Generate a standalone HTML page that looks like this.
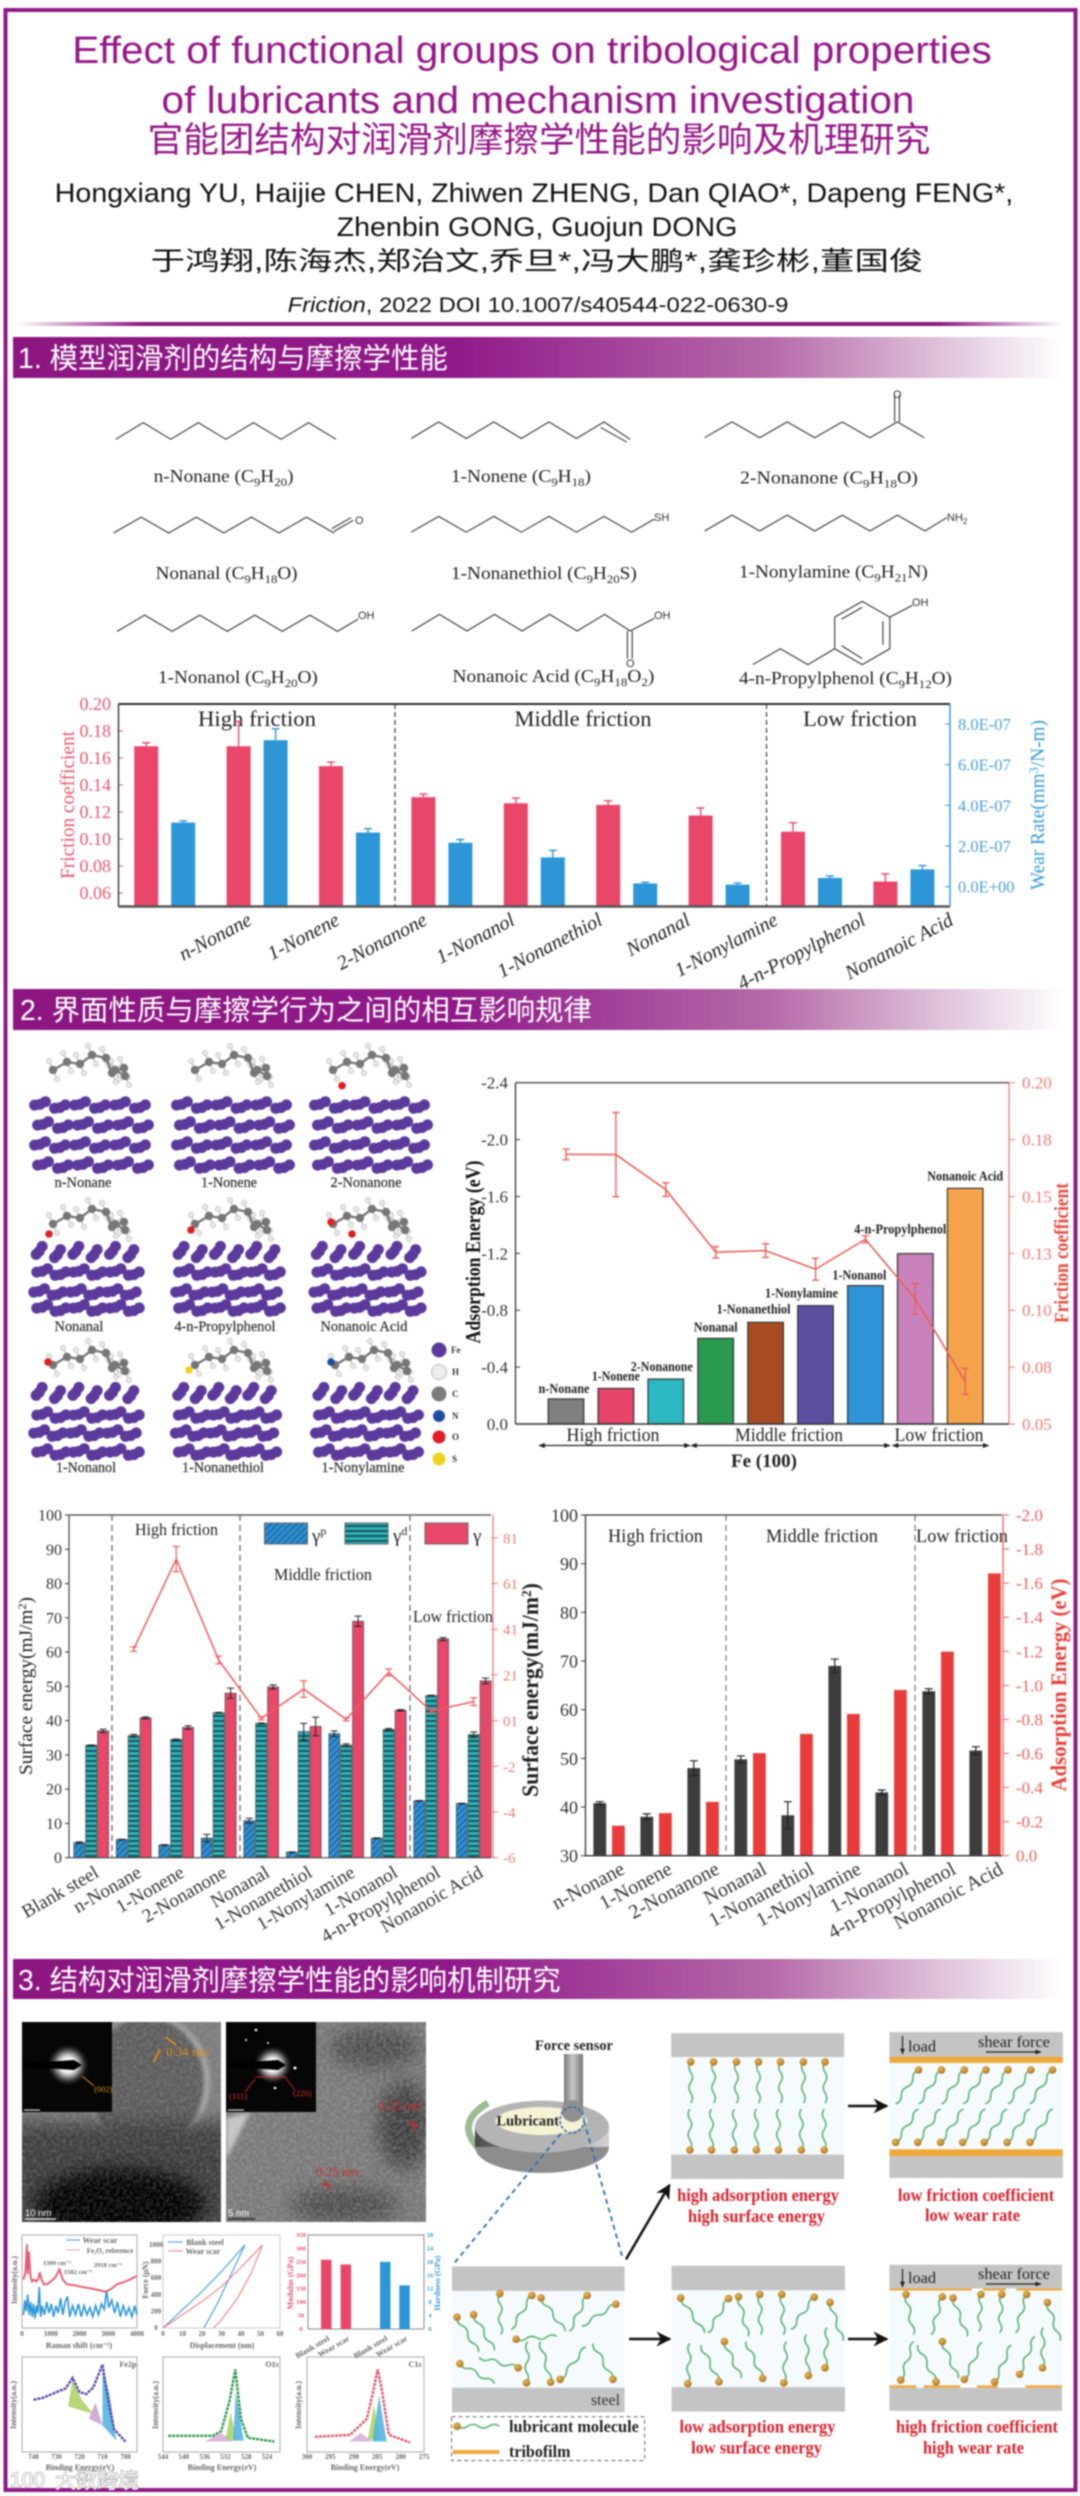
<!DOCTYPE html>
<html lang="en">
<head>
<meta charset="utf-8">
<title>Effect of functional groups on tribological properties of lubricants</title>
<style>
html,body{margin:0;padding:0;width:1080px;height:2496px;background:#fff;overflow:hidden}
#poster{display:block;filter:blur(0.7px)}
text{font-family:"Liberation Serif","Noto Serif CJK SC",serif}
.sans{font-family:"Liberation Sans","Noto Sans CJK SC",sans-serif}
.sec{font-family:"Liberation Sans","Noto Sans CJK SC",sans-serif;font-size:28.5px;fill:#fff}
.mol{font-size:18px;fill:#222}
.atom{font-size:11px;fill:#333;font-family:"Liberation Sans",sans-serif}
.fe{font-size:15px;fill:#333;text-anchor:middle;stroke:#333;stroke-width:.25}
.band{font-size:19px;fill:#222;text-anchor:middle}
.redb{font-size:18px;font-weight:bold;fill:#d8202c;text-anchor:middle}
.tiny{font-size:8px;fill:#666;font-weight:bold;text-anchor:middle}
</style>
</head>
<body>
<svg id="poster" xmlns="http://www.w3.org/2000/svg" width="1080" height="2496" viewBox="0 0 1080 2496">
<defs>
<linearGradient id="secGrad" x1="0" x2="1" y1="0" y2="0"><stop offset="0" stop-color="#8c1680"/><stop offset=".42" stop-color="#90198a"/><stop offset=".72" stop-color="#b56aa8"/><stop offset=".9" stop-color="#e3cbe0"/><stop offset="1" stop-color="#fff"/></linearGradient>
<linearGradient id="ruleGrad" x1="0" x2="1" y1="0" y2="0"><stop offset="0" stop-color="#8c1680" stop-opacity="0"/><stop offset=".12" stop-color="#8c1680"/><stop offset=".88" stop-color="#8c1680"/><stop offset="1" stop-color="#8c1680" stop-opacity="0"/></linearGradient>
<linearGradient id="diskSide" x1="0" x2="1" y1="0" y2="0"><stop offset="0" stop-color="#4a4a4a"/><stop offset=".5" stop-color="#a8a8a8"/><stop offset="1" stop-color="#d0d0d0"/></linearGradient>
<linearGradient id="rodGrad" x1="0" x2="1" y1="0" y2="0"><stop offset="0" stop-color="#777"/><stop offset=".45" stop-color="#c8c8c8"/><stop offset="1" stop-color="#777"/></linearGradient>
<radialGradient id="ball" cx=".4" cy=".35" r=".7"><stop offset="0" stop-color="#e8b85a"/><stop offset="1" stop-color="#a56e18"/></radialGradient>
<radialGradient id="halo"><stop offset="0" stop-color="#fff"/><stop offset=".35" stop-color="#eee"/><stop offset=".6" stop-color="#777"/><stop offset="1" stop-color="#000" stop-opacity="0"/></radialGradient>
<pattern id="hatchP" width="4.5" height="4.5" patternUnits="userSpaceOnUse" patternTransform="rotate(45)"><rect width="4.5" height="4.5" fill="#2c8fd2"/><line x1="0" y1="0" x2="0" y2="4.5" stroke="#17405f" stroke-width="1.4"/></pattern>
<pattern id="hatchD" width="4" height="5" patternUnits="userSpaceOnUse"><rect width="4" height="5" fill="#2cb0b8"/><line x1="0" y1="1" x2="4" y2="1" stroke="#123c40" stroke-width="1.5"/></pattern>
<filter id="grain" x="0" y="0" width="100%" height="100%"><feTurbulence type="fractalNoise" baseFrequency="0.3" numOctaves="2" seed="4"/><feColorMatrix type="matrix" values="0 0 0 0 .5  0 0 0 0 .5  0 0 0 0 .5  1.6 0 0 0 -.55"/></filter>
<filter id="soft" x="-60%" y="-60%" width="220%" height="220%"><feGaussianBlur stdDeviation="9"/></filter>
<filter id="soft2" x="-30%" y="-30%" width="160%" height="160%"><feGaussianBlur stdDeviation="2"/></filter>
<clipPath id="tem1"><rect x="22" y="2022" width="199" height="200"/></clipPath>
<clipPath id="tem2"><rect x="226" y="2022" width="200" height="200"/></clipPath>
<marker id="ah" viewBox="0 0 10 10" refX="9" refY="5" markerWidth="6" markerHeight="6" orient="auto-start-reverse"><path d="M0 0L10 5L0 10L3 5Z" fill="#111"/></marker>
<marker id="ahs" viewBox="0 0 10 10" refX="9" refY="5" markerWidth="5" markerHeight="5" orient="auto-start-reverse"><path d="M0 1L10 5L0 9Z" fill="#222"/></marker>
</defs>

<rect x="0" y="0" width="1080" height="2496" fill="#fff"/>
<rect x="5.5" y="10" width="1070" height="2480" fill="none" stroke="#8f1a85" stroke-width="4"/>

<g>
<text class="sans" x="532" y="63" font-size="38" fill="#951786" text-anchor="middle" data-w="920">Effect of functional groups on tribological properties</text>
<text class="sans" x="538" y="113" font-size="38" fill="#951786" text-anchor="middle" data-w="753">of lubricants and mechanism investigation</text>
<text class="sans" x="539" y="152" font-size="35" fill="#951786" text-anchor="middle" data-w="783">官能团结构对润滑剂摩擦学性能的影响及机理研究</text>
<text class="sans" x="534" y="202" font-size="27" fill="#111" text-anchor="middle" data-w="959">Hongxiang YU, Haijie CHEN, Zhiwen ZHENG, Dan QIAO*, Dapeng FENG*,</text>
<text class="sans" x="537" y="236" font-size="27" fill="#111" text-anchor="middle" data-w="401">Zhenbin GONG, Guojun DONG</text>
<text class="sans" x="537" y="270" font-size="26" fill="#111" text-anchor="middle" data-w="773">于鸿翔,陈海杰,郑治文,乔旦*,冯大鹏*,龚珍彬,董国俊</text>
<text class="sans" x="538" y="312" font-size="21" fill="#111" text-anchor="middle" data-w="501"><tspan font-style="italic">Friction</tspan>, 2022 DOI 10.1007/s40544-022-0630-9</text>
<rect x="15" y="322" width="1050" height="4" fill="url(#ruleGrad)"/>
</g>

<g>
<rect x="13" y="337" width="1052" height="41" fill="url(#secGrad)"/>
<text class="sec" x="18" y="368" data-w="430">1. 模型润滑剂的结构与摩擦学性能</text>
</g>
<g>
<rect x="13" y="989" width="1052" height="41" fill="url(#secGrad)"/>
<text class="sec" x="20" y="1020" data-w="572">2. 界面性质与摩擦学行为之间的相互影响规律</text>
</g>
<g>
<rect x="13" y="1959" width="1052" height="40" fill="url(#secGrad)"/>
<text class="sec" x="18" y="1990" data-w="543">3. 结构对润滑剂摩擦学性能的影响机制研究</text>
</g>

<g id="molecules">
<text class="mol" x="153.6" y="482" data-w="140">n-Nonane (C<tspan dy="4" font-size="12">9</tspan><tspan dy="-4">H</tspan><tspan dy="4" font-size="12">20</tspan><tspan dy="-4">)</tspan></text>
<text class="mol" x="451" y="482" data-w="140">1-Nonene (C<tspan dy="4" font-size="12">9</tspan><tspan dy="-4">H</tspan><tspan dy="4" font-size="12">18</tspan><tspan dy="-4">)</tspan></text>
<text class="mol" x="740" y="483.5" data-w="178">2-Nonanone  (C<tspan dy="4" font-size="12">9</tspan><tspan dy="-4">H</tspan><tspan dy="4" font-size="12">18</tspan><tspan dy="-4">O)</tspan></text>
<text class="mol" x="155.6" y="579" data-w="142">Nonanal (C<tspan dy="4" font-size="12">9</tspan><tspan dy="-4">H</tspan><tspan dy="4" font-size="12">18</tspan><tspan dy="-4">O)</tspan></text>
<text class="mol" x="451" y="579" data-w="186">1-Nonanethiol (C<tspan dy="4" font-size="12">9</tspan><tspan dy="-4">H</tspan><tspan dy="4" font-size="12">20</tspan><tspan dy="-4">S)</tspan></text>
<text class="mol" x="739" y="577.6" data-w="189">1-Nonylamine (C<tspan dy="4" font-size="12">9</tspan><tspan dy="-4">H</tspan><tspan dy="4" font-size="12">21</tspan><tspan dy="-4">N)</tspan></text>
<text class="mol" x="158" y="683" data-w="160">1-Nonanol (C<tspan dy="4" font-size="12">9</tspan><tspan dy="-4">H</tspan><tspan dy="4" font-size="12">20</tspan><tspan dy="-4">O)</tspan></text>
<text class="mol" x="452.5" y="682" data-w="202">Nonanoic Acid (C<tspan dy="4" font-size="12">9</tspan><tspan dy="-4">H</tspan><tspan dy="4" font-size="12">18</tspan><tspan dy="-4">O</tspan><tspan dy="4" font-size="12">2</tspan><tspan dy="-4">)</tspan></text>
<text class="mol" x="739" y="684" data-w="213">4-n-Propylphenol (C<tspan dy="4" font-size="12">9</tspan><tspan dy="-4">H</tspan><tspan dy="4" font-size="12">12</tspan><tspan dy="-4">O)</tspan></text>
<text class="atom" x="893" y="398">O</text>
<text class="atom" x="355" y="524">O</text>
<text class="atom" x="654" y="521">SH</text>
<text class="atom" x="947" y="521">NH<tspan dy="3" font-size="8">2</tspan></text>
<text class="atom" x="358" y="619">OH</text>
<text class="atom" x="654" y="619">OH</text>
<text class="atom" x="626" y="667">O</text>
<text class="atom" x="912" y="606">OH</text>
</g>

<g id="chart1">
<text class="band" x="257" y="726" font-size="22" style="font-size:22px" data-w="118">High friction</text>
<text class="band" x="583" y="726" style="font-size:22px" data-w="137">Middle friction</text>
<text class="band" x="860" y="726" style="font-size:22px" data-w="114">Low friction</text>
<text x="74" y="805" font-size="20" fill="#e8566f" text-anchor="middle" transform="rotate(-90 74 805)" data-w="148">Friction coefficient</text>
<text x="1044" y="805" font-size="20" fill="#3a9ad6" text-anchor="middle" transform="rotate(-90 1044 805)" data-w="170">Wear Rate(mm<tspan dy="-6" font-size="13">3</tspan><tspan dy="6">/N-m)</tspan></text>
</g>

<g id="fePanels">
<text class="fe" x="83" y="1187" data-w="57">n-Nonane</text>
<text class="fe" x="229" y="1187" data-w="56">1-Nonene</text>
<text class="fe" x="366" y="1187" data-w="71">2-Nonanone</text>
<text class="fe" x="79" y="1331" data-w="49">Nonanal</text>
<text class="fe" x="225" y="1331" data-w="101">4-n-Propylphenol</text>
<text class="fe" x="364" y="1331" data-w="87">Nonanoic Acid</text>
<text class="fe" x="86" y="1472" data-w="60">1-Nonanol</text>
<text class="fe" x="223" y="1472" data-w="82">1-Nonanethiol</text>
<text class="fe" x="363" y="1472" data-w="83">1-Nonylamine</text>
<g>
<circle cx="439" cy="1350" r="7.5" fill="#5b3a9b"/>
<circle cx="439" cy="1372" r="7.5" fill="#eee" stroke="#bbb"/>
<circle cx="439" cy="1394" r="7.5" fill="#7c7c7c"/>
<circle cx="439" cy="1416" r="6" fill="#1d4ea0"/>
<circle cx="439" cy="1437" r="6.5" fill="#e01f25"/>
<circle cx="439" cy="1459" r="6.5" fill="#ecd21c"/>
<text x="451" y="1353" font-size="9" font-weight="bold" fill="#333">Fe</text>
<text x="452" y="1375" font-size="9" font-weight="bold" fill="#333">H</text>
<text x="452" y="1397" font-size="9" font-weight="bold" fill="#333">C</text>
<text x="452" y="1419" font-size="9" font-weight="bold" fill="#333">N</text>
<text x="452" y="1440" font-size="9" font-weight="bold" fill="#333">O</text>
<text x="452" y="1462" font-size="9" font-weight="bold" fill="#333">S</text>
</g>
</g>

<g id="chart2">
<text x="480" y="1252" font-size="21" font-weight="bold" fill="#111" text-anchor="middle" transform="rotate(-90 480 1252)" data-w="183">Adsorption Energy (eV)</text>
<text x="1068" y="1253" font-size="20" font-weight="bold" fill="#e8483f" text-anchor="middle" transform="rotate(-90 1068 1253)" data-w="140">Friction coefficient</text>
<text class="band" x="613" y="1441" data-w="93">High friction</text>
<text class="band" x="789" y="1441" data-w="108">Middle friction</text>
<text class="band" x="939" y="1441" data-w="89">Low friction</text>
<line x1="539" x2="690" y1="1445.5" y2="1445.5" stroke="#222" stroke-width="1.3" marker-start="url(#ahs)" marker-end="url(#ahs)"/>
<line x1="691" x2="890" y1="1445.5" y2="1445.5" stroke="#222" stroke-width="1.3" marker-start="url(#ahs)" marker-end="url(#ahs)"/>
<line x1="892.5" x2="988.6" y1="1445.5" y2="1445.5" stroke="#222" stroke-width="1.3" marker-start="url(#ahs)" marker-end="url(#ahs)"/>
<text x="764" y="1467" font-size="19" font-weight="bold" fill="#222" text-anchor="middle">Fe (100)</text>
</g>

<g id="chart3">
<text x="32" y="1686" font-size="19" fill="#222" text-anchor="middle" transform="rotate(-90 32 1686)" data-w="178">Surface energy(mJ/m<tspan dy="-6" font-size="12">2</tspan><tspan dy="6">)</tspan></text>
<text class="band" x="176.5" y="1535" style="font-size:17px" data-w="83">High friction</text>
<text class="band" x="323" y="1580" style="font-size:17px" data-w="98">Middle friction</text>
<text class="band" x="453" y="1622" style="font-size:17px" data-w="80">Low friction</text>
</g>

<g id="chart4">
<text x="538" y="1690" font-size="23" font-weight="bold" fill="#222" text-anchor="middle" transform="rotate(-90 538 1690)" data-w="214">Surface energy(mJ/m<tspan dy="-7" font-size="14">2</tspan><tspan dy="7">)</tspan></text>
<text x="1066" y="1685" font-size="22" font-weight="bold" fill="#e8403a" text-anchor="middle" transform="rotate(-90 1066 1685)" data-w="213">Adsorption Energy (eV)</text>
<text class="band" x="655.5" y="1542" data-w="95">High friction</text>
<text class="band" x="822" y="1542" data-w="112">Middle friction</text>
<text class="band" x="962" y="1542" data-w="92">Low friction</text>
</g>

<g clip-path="url(#tem1)">
<rect x="22" y="2022" width="199" height="200" fill="#7c7c7c"/>
<ellipse cx="148" cy="2082" rx="62" ry="68" fill="#a8a8a8" filter="url(#soft2)"/>
<ellipse cx="146" cy="2082" rx="58" ry="65" fill="#5c5c5c" filter="url(#soft2)"/>
<rect x="10" y="2122" width="225" height="110" fill="#3e3e3e" filter="url(#soft)"/>
<ellipse cx="120" cy="2205" rx="85" ry="36" fill="#060606" filter="url(#soft)"/>
<rect x="22" y="2022" width="199" height="200" filter="url(#grain)" opacity=".35"/>
</g>
<g clip-path="url(#tem2)">
<rect x="226" y="2022" width="200" height="200" fill="#787878"/>
<ellipse cx="404" cy="2125" rx="26" ry="44" fill="#3e3e3e" filter="url(#soft)"/>
<ellipse cx="345" cy="2205" rx="55" ry="18" fill="#4c4c4c" filter="url(#soft)"/>
<ellipse cx="375" cy="2048" rx="45" ry="20" fill="#4c4c4c" filter="url(#soft)"/>
<path d="M226 2160L226 2118L250 2112Z" fill="#c8c8c8" filter="url(#soft2)"/>
<rect x="226" y="2022" width="200" height="200" filter="url(#grain)" opacity=".5"/>
</g>
<g>
<rect x="22" y="2022" width="90" height="90" fill="#060606"/>
<circle cx="68" cy="2065" r="22" fill="url(#halo)"/>
<path d="M24 2063L60 2061L74 2060L82 2065L74 2070L60 2069L24 2067Z" fill="#000"/>
<line x1="82" y1="2076" x2="94" y2="2086" stroke="#d98a1f"/>
<text x="94" y="2092" font-size="8.5" fill="#d98a1f">(002)</text>
<line x1="24" y1="2110" x2="40" y2="2110" stroke="#fff"/>
</g>
<g>
<rect x="226" y="2022" width="90" height="90" fill="#060606"/>
<circle cx="272.7" cy="2065" r="20" fill="url(#halo)"/>
<path d="M228 2063L264 2061L278 2060L286 2065L278 2070L264 2069L228 2067Z" fill="#000"/>
<circle cx="256" cy="2030" r="1.3" fill="#fff"/><circle cx="246" cy="2040" r="1" fill="#fff"/><circle cx="295" cy="2068" r="1.5" fill="#fff"/><circle cx="268" cy="2043" r="1" fill="#fff"/><circle cx="275" cy="2088" r="1.3" fill="#fff"/>
<path d="M255 2079L245 2092M285 2077L295 2090M255 2077L285 2077" stroke="#d8302c" fill="none" stroke-width=".8"/>
<text x="229" y="2099" font-size="8.5" fill="#d8302c">(311)</text>
<text x="293" y="2096" font-size="8.5" fill="#d8302c">(220)</text>
<line x1="228" y1="2110" x2="244" y2="2110" stroke="#fff"/>
</g>
<g>
<text x="166" y="2056" font-size="13" fill="#d98a1f">0.34 nm</text>
<path d="M166 2037L176 2045M154 2062L160 2049" stroke="#d98a1f" stroke-width="2"/>
<text x="378" y="2110" font-size="13" fill="#c8302c">0.25 nm</text>
<text x="316" y="2176" font-size="13" fill="#c8302c">0.25 nm</text>
<path d="M408 2124L418 2126M411 2120L415 2130M322 2184L332 2186M325 2180L329 2191" stroke="#c8302c" stroke-width="1.6"/>
<text class="sans" x="25" y="2216" font-size="9.5" fill="#fff">10 nm</text>
<line x1="25" y1="2219" x2="56" y2="2219" stroke="#fff" stroke-width="1.2"/>
<text class="sans" x="228" y="2216" font-size="9.5" fill="#fff">5 nm</text>
<line x1="228" y1="2219" x2="255" y2="2219" stroke="#222" stroke-width="1.2"/>
</g>

<g id="microCharts">
<rect x="22" y="2235" width="115" height="93" fill="#fff" stroke="#aaa"/>
<rect x="163" y="2235" width="117" height="93" fill="#fff" stroke="#ccc"/>
<rect x="22" y="2357" width="115" height="95" fill="#fff" stroke="#aaa"/>
<rect x="163" y="2357" width="117" height="95" fill="#fff" stroke="#aaa"/>
<rect x="307" y="2357" width="117" height="95" fill="#fff" stroke="#aaa"/>
<text class="tiny" x="79" y="2348">Raman shift (cm⁻¹)</text>
<text class="tiny" x="222" y="2348">Displacement (nm)</text>
<text class="tiny" x="80" y="2470">Binding Energy(eV)</text>
<text class="tiny" x="222" y="2470">Binding Energy(eV)</text>
<text class="tiny" x="365" y="2470">Binding Energy(eV)</text>
<text class="tiny" x="17" y="2280" transform="rotate(-90 17 2280)">Intensity(a.u.)</text>
<text class="tiny" x="148" y="2280" transform="rotate(-90 148 2280)">Force (μN)</text>
<text class="tiny" x="293" y="2283" transform="rotate(-90 293 2283)" style="fill:#e8566f">Modulus (GPa)</text>
<text class="tiny" x="440" y="2283" transform="rotate(-90 440 2283)" style="fill:#3a9ad6">Hardness (GPa)</text>
<text class="tiny" x="16" y="2405" transform="rotate(-90 16 2405)">Intensity(a.u.)</text>
<text class="tiny" x="158" y="2405" transform="rotate(-90 158 2405)">Intensity(a.u.)</text>
<text class="tiny" x="301" y="2405" transform="rotate(-90 301 2405)">Intensity(a.u.)</text>
<text class="tiny" x="128" y="2367">Fe2p</text>
<text class="tiny" x="272" y="2367">O1s</text>
<text class="tiny" x="415" y="2367">C1s</text>
<line x1="66" x2="80" y1="2240" y2="2240" stroke="#3a9ad6"/>
<text class="tiny" x="100" y="2243">Wear scar</text>
<line x1="66" x2="80" y1="2250" y2="2250" stroke="#f0a0a8"/>
<text class="tiny" x="110" y="2253" style="font-size:7px">Fe₂O₃ reference</text>
<text class="tiny" x="57" y="2265" style="font-size:6.5px">1309 cm⁻¹</text>
<text class="tiny" x="78" y="2274" style="font-size:6.5px">1582 cm⁻¹</text>
<text class="tiny" x="108" y="2267" style="font-size:6.5px">2910 cm⁻¹</text>
<line x1="168" x2="183" y1="2242" y2="2242" stroke="#3a9ad6"/>
<text class="tiny" x="205" y="2245">Blank steel</text>
<line x1="168" x2="183" y1="2251" y2="2251" stroke="#f07a80"/>
<text class="tiny" x="203" y="2254">Wear scar</text>
</g>

<g id="mechanism">
<g>
<text x="535" y="2050" font-size="14.5" font-weight="bold" fill="#222" data-w="78">Force sensor</text>
<path d="M488 2103Q450 2125 486 2155" fill="none" stroke="#9dbb95" stroke-width="7"/>
<ellipse cx="542" cy="2147" rx="67" ry="26" fill="#8d8d8d"/>
<rect x="475" y="2127" width="134" height="20" fill="url(#diskSide)"/>
<ellipse cx="542" cy="2126.6" rx="67" ry="26" fill="#b4b4b4"/>
<ellipse cx="541.4" cy="2121" rx="46" ry="14" fill="#f6f2d4"/>
<text x="496.5" y="2125.5" font-size="15" font-weight="bold" fill="#222" data-w="62.5">Lubricant</text>
<rect x="564" y="2054" width="19" height="58" fill="url(#rodGrad)"/>
<circle cx="572.6" cy="2111" r="11" fill="#8f8f8f"/>
<ellipse cx="572" cy="2120" rx="12" ry="13" fill="none" stroke="#2a6db0" stroke-width="1.6" stroke-dasharray="3 2"/>
<path d="M561 2133.6L453 2264.7M584 2121L623 2259.4" stroke="#2a6db0" stroke-width="1.8" stroke-dasharray="5 4" fill="none"/>
</g>
<g id="plates"></g>
<text x="591" y="2405" font-size="16" fill="#333" data-w="29">steel</text>
<rect x="451.6" y="2416.8" width="193" height="43.7" fill="none" stroke="#666" stroke-width="1" stroke-dasharray="4 3"/>
<text x="509" y="2432" font-size="16.5" font-weight="bold" fill="#222" data-w="130">lubricant molecule</text>
<text x="509" y="2457" font-size="16.5" font-weight="bold" fill="#222" data-w="61.5">tribofilm</text>
<rect x="453" y="2450" width="46.4" height="4" fill="#eda83c"/>
<text class="redb" x="758" y="2201" data-w="162">high adsorption energy</text>
<text class="redb" x="756.5" y="2222" data-w="137">high surface energy</text>
<text class="redb" x="976" y="2201" data-w="156.5">low friction coefficient</text>
<text class="redb" x="972.5" y="2221" data-w="95">low wear rate</text>
<text class="redb" x="757.5" y="2432.5" data-w="156">low adsorption energy</text>
<text class="redb" x="756.5" y="2453.5" data-w="131">low surface energy</text>
<text class="redb" x="977" y="2432.5" data-w="162">high friction coefficient</text>
<text class="redb" x="973.5" y="2453.5" data-w="101">high wear rate</text>
<g>
<line x1="848" y1="2106" x2="887" y2="2106" stroke="#111" stroke-width="2.5" marker-end="url(#ah)"/>
<line x1="629" y1="2339" x2="670" y2="2339" stroke="#111" stroke-width="2.5" marker-end="url(#ah)"/>
<line x1="848" y1="2339" x2="887" y2="2339" stroke="#111" stroke-width="2.5" marker-end="url(#ah)"/>
<line x1="626" y1="2259.4" x2="669.5" y2="2185" stroke="#111" stroke-width="2.5" marker-end="url(#ah)"/>
</g>
<g>
<line x1="902.5" y1="2036" x2="902.5" y2="2054" stroke="#222" stroke-width="1.2" marker-end="url(#ahs)"/>
<text x="908" y="2051.4" font-size="16" fill="#222" data-w="28">load</text>
<text x="978" y="2047" font-size="16" fill="#222" data-w="72">shear force</text>
<line x1="986" y1="2052" x2="1041" y2="2052" stroke="#222" stroke-width="1.2" marker-end="url(#ahs)"/>
<line x1="902.5" y1="2269" x2="902.5" y2="2287" stroke="#222" stroke-width="1.2" marker-end="url(#ahs)"/>
<text x="908" y="2283" font-size="16" fill="#222" data-w="28">load</text>
<text x="978" y="2279" font-size="16" fill="#222" data-w="72">shear force</text>
<line x1="986" y1="2284" x2="1041" y2="2284" stroke="#222" stroke-width="1.2" marker-end="url(#ahs)"/>
</g>
</g>

<g>
<text class="sans" x="55" y="2488" font-size="21" fill="#fff" stroke="#888" stroke-width="1" paint-order="stroke">大数跨境</text>
<text class="sans" x="10" y="2487" font-size="21" fill="#fff" stroke="#888" stroke-width="1" paint-order="stroke">100</text>
</g>
</svg>

<script>
/* ---------- chart data ---------- */
const frictionCategories = ['n-Nonane','1-Nonene','2-Nonanone','1-Nonanol','1-Nonanethiol','Nonanal','1-Nonylamine','4-n-Propylphenol','Nonanoic Acid'];
const frictionCoef = [0.1687,0.1687,0.154,0.131,0.1265,0.1253,0.1174,0.1054,0.0685];
const frictionCoefErr = [0.0026,0.0185,0.003,0.0023,0.0038,0.003,0.0056,0.0067,0.0056];
const wearRate = [3.15,7.2,2.66,2.16,1.44,0.16,0.1,0.43,0.85];
const wearRateErr = [0.08,0.56,0.19,0.16,0.35,0.06,0.08,0.1,0.19];
const frictionTicks = [0.06,0.08,0.10,0.12,0.14,0.16,0.18,0.20];
const wearTicks = [0,2,4,6,8];
const wearTickLabels = ['0.0E+00','2.0E-07','4.0E-07','6.0E-07','8.0E-07'];

const adsCategories = ['n-Nonane','1-Nonene','2-Nonanone','Nonanal','1-Nonanethiol','1-Nonylamine','1-Nonanol','4-n-Propylphenol','Nonanoic Acid'];
const adsEnergy = [0.176,0.25,0.316,0.602,0.715,0.832,0.973,1.198,1.657];
const adsFriction = [0.1685,0.1684,0.153,0.1255,0.1262,0.118,0.1312,0.105,0.0687];
const adsFrictionErr = [0.0024,0.0185,0.003,0.0025,0.003,0.0048,0.0015,0.0067,0.0057];
const adsTicks = [0,0.4,0.8,1.2,1.6,2.0,2.4];
const adsTickLabels = ['0.0','-0.4','-0.8','-1.2','-1.6','-2.0','-2.4'];
const adsFricTicks = [0.05,0.075,0.1,0.125,0.15,0.175,0.2];
const adsFricTickLabels = ['0.05','0.08','0.10','0.13','0.15','0.18','0.20'];

const surfCategories = ['Blank steel','n-Nonane','1-Nonene','2-Nonanone','Nonanal','1-Nonanethiol','1-Nonylamine','1-Nonanol','4-n-Propylphenol','Nonanoic Acid'];
const gammaP = [4.4,5.3,3.7,5.7,10.8,1.6,36.2,5.7,16.6,15.8];
const gammaPErr = [0.2,0.1,0.1,1.1,0.7,0.1,0.8,0.1,0.1,0.1];
const gammaD = [32.8,35.6,34.5,42.3,39.2,36.8,32.8,37.4,47.3,35.9];
const gammaDErr = [0.1,0.4,0.1,0.1,0.1,2.4,0.4,0.3,0.1,0.8];
const gammaT = [37,40.8,38,48,49.8,38.3,69,43,63.8,51.6];
const gammaTErr = [0.5,0.3,0.5,1.5,0.6,2.7,1.5,0.2,0.4,0.8];
const surfWear = [3.13,7.07,2.65,0.1,1.38,0.06,2.11,0.42,0.83];
const surfWearErr = [0.1,0.55,0.17,0.07,0.36,0.07,0.15,0.07,0.17];
const surfTicks = [0,10,20,30,40,50,60,70,80,90,100];
const surfRightTicks = [-6,-4,-2,0,2,4,6,8];
const surfRightLabels = ['-6','-4','-2','01','21','41','61','81'];

const corrCategories = ['n-Nonane','1-Nonene','2-Nonanone','Nonanal','1-Nonanethiol','1-Nonylamine','1-Nonanol','4-n-Propylphenol','Nonanoic Acid'];
const corrSurface = [40.8,38,48,49.8,38.3,69,43,63.8,51.6];
const corrSurfaceErr = [0.3,0.6,1.5,0.7,2.8,1.4,0.5,0.5,0.8];
const corrAds = [0.176,0.25,0.316,0.602,0.715,0.832,0.973,1.198,1.657];
const corrTicks = [30,40,50,60,70,80,90,100];
const corrRightTicks = [0,0.2,0.4,0.6,0.8,1.0,1.2,1.4,1.6,1.8,2.0];
const corrRightLabels = ['0.0','-0.2','-0.4','-0.6','-0.8','-1.0','-1.2','-1.4','-1.6','-1.8','-2.0'];

const ramanShift = [50,120,170,200,240,300,350,420,500,580,620,680,760,880,1000,1150,1300,1420,1560,1800,2100,2500,2900,3100,3300,3600,3800,4000];
const ramanRed = [52,60,90,58,82,55,50,52,50,54,60,52,47,47,50,54,63,52,47,46,44,42,39,42,47,50,53,56];
const ramanBlueShift = [50,100,150,200,250,300,350,400,450,500,550,600,650,700,780,860,940,1020,1100,1180,1260,1340,1420,1500,1580,1660,1760,1860,1960,2060,2160,2260,2360,2460,2560,2660,2760,2860,2940,3020,3120,3220,3320,3420,3520,3620,3720,3820,3920,4000];
const ramanBlue = [14,30,18,36,14,28,12,26,10,24,16,44,12,24,14,28,16,26,12,24,16,32,14,28,34,12,24,14,26,12,24,14,22,12,24,14,26,20,40,22,30,16,28,12,24,14,22,12,24,14];
const loadX = [0,10,20,30,42];
const loadBlue = [0,220,440,680,1000];
const unloadBlueX = [42,35,28,21];
const unloadBlue = [1000,650,300,0];
const loadRedX = [0,10,20,30,40,51];
const loadRed = [0,160,320,500,730,1000];
const unloadRedX = [51,45,38,30,26];
const unloadRed = [1000,650,350,100,0];
const mechCategories = ['Blank steel','Wear scar'];
const modulusValues = [258,240];
const hardnessValues = [20,13];
const fe2pBE = [740,736,730,726,723,720,717,714,710,708,705,700];
const fe2pI = [55,57,63,67,78,63,61,68,92,61,24,11];
const fe2pTicks = [740,730,720,710,700];
const o1sBE = [543,534.4,532.8,531.2,530.1,529,527.7,522.6];
const o1sI = [17,17,22,54,87,35,15,11];
const o1sTicks = [544,540,536,532,528,524];
const c1sBE = [298.3,290.8,287.2,285.8,284.9,284,282.5,278];
const c1sI = [16,18,35,65,87,65,18,10];
const c1sTicks = [300,295,290,285,280,275];

/* ---------- helpers ---------- */
const NS = 'http://www.w3.org/2000/svg';
function mk(tag, attrs, parent, txt) {
  const e = document.createElementNS(NS, tag);
  for (const k in attrs) e.setAttribute(k, attrs[k]);
  if (txt !== undefined) e.textContent = txt;
  parent.appendChild(e);
  return e;
}
function errPath(x, y1, y2, cap) {
  return 'M' + (x - cap) + ' ' + y2 + 'H' + (x + cap) + 'M' + x + ' ' + y2 + 'V' + y1;
}
function errBoth(x, y1, y2, cap) {
  return 'M' + (x - cap) + ' ' + y1 + 'H' + (x + cap) + 'M' + (x - cap) + ' ' + y2 + 'H' + (x + cap) + 'M' + x + ' ' + y1 + 'V' + y2;
}

/* ---------- chart 1 ---------- */
(function () {
  const g = document.getElementById('chart1');
  const X = i => 164.7 + 92.4 * i;
  const YL = v => 906.5 - (v - 0.05) / 0.15 * 202.5;
  const YR = v => 886.7 - v / 2 * 40.7;
  const W = 24, OFF = 18.5;
  frictionCategories.forEach((c, i) => {
    const y = YL(frictionCoef[i]);
    const e = mk('path', { d: errPath(X(i) - OFF, y, YL(frictionCoef[i] + frictionCoefErr[i]), 4), stroke: '#e8476a', 'stroke-width': 1.4, fill: 'none' }, g);
    
    
    const b = mk('rect', { x: X(i) - OFF - W / 2, y: y, width: W, height: 906.5 - y, fill: '#e8476a' }, g);
    
    
    const y2 = YR(wearRate[i]);
    const e2 = mk('path', { d: errPath(X(i) + OFF, y2, YR(wearRate[i] + wearRateErr[i]), 4), stroke: '#2c96d6', 'stroke-width': 1.4, fill: 'none' }, g);
    
    
    const b2 = mk('rect', { x: X(i) + OFF - W / 2, y: y2, width: W, height: 906.5 - y2, fill: '#2c96d6' }, g);
    
    
    const ex = 253 + 87.7 * i;
    const t = mk('text', { x: ex, y: 924, 'font-size': 20, 'font-style': 'italic', fill: '#222', 'text-anchor': 'end', transform: 'rotate(-28 ' + ex + ' 924)' }, g, c);
    
    
  });
  frictionTicks.forEach(v => {
    const t = mk('text', { x: 111, y: YL(v) + 6, 'font-size': 18, fill: '#e8566f', 'text-anchor': 'end' }, g, v.toFixed(2));
    
    
    const l = mk('line', { x1: 118.5, x2: 123, y1: YL(v), y2: YL(v), stroke: '#e8566f' }, g);
    
    
  });
  wearTicks.forEach((v, i) => {
    const t = mk('text', { x: 958, y: YR(v) + 6, 'font-size': 16.5, fill: '#4aa0da' }, g, wearTickLabels[i]);
    
    
    const l = mk('line', { x1: 945, x2: 950, y1: YR(v), y2: YR(v), stroke: '#2c96d6' }, g);
    
    
  });
  const a1 = mk('line', { x1: 118.5, x2: 950, y1: 704, y2: 704, stroke: '#111', 'stroke-width': 1.8 }, g);
  
  
  const a2 = mk('line', { x1: 118.5, x2: 950, y1: 906.5, y2: 906.5, stroke: '#555', 'stroke-width': 2.4 }, g);
  
  
  const a3 = mk('line', { x1: 118.5, x2: 118.5, y1: 704, y2: 906.5, stroke: '#333', 'stroke-width': 1.4 }, g);
  
  
  const a4 = mk('line', { x1: 950, x2: 950, y1: 704, y2: 906.5, stroke: '#2c96d6', 'stroke-width': 1.4 }, g);
  
  
  [395, 766.5].forEach(x => {
    const d = mk('line', { x1: x, x2: x, y1: 704, y2: 906.5, stroke: '#333', 'stroke-width': 1.1, 'stroke-dasharray': '5 3' }, g);
    
    
  });
})();

/* ---------- chart 2 ---------- */
(function () {
  const g = document.getElementById('chart2');
  const X = i => 566 + 49.9 * i;
  const YL = v => 1424 - v / 2.4 * 341.3;
  const YR = v => 1424 - (v - 0.05) / 0.15 * 341.3;
  const colors = ['#808080','#e8456a','#2cb8c0','#2a9a50','#a84a22','#5c4fa0','#2f95d8','#c982bc','#f4a34a'];
  const dxs = [-2,0,-4,0,-12,-14,-6,-15,0];
  const dys = [6,8,8,7,9,8,6,20,8];
  const widths = [51,48,62,44,74,73,54,92,76];
  adsCategories.forEach((c, i) => {
    const y = YL(adsEnergy[i]);
    const b = mk('rect', { x: X(i) - 17.8, y: y, width: 35.6, height: 1424 - y, fill: colors[i], stroke: '#333', 'stroke-width': 1.2 }, g);
    
    
  });
  adsCategories.forEach((c, i) => {
    const y = YL(adsEnergy[i]);
    const t = mk('text', { x: X(i) + dxs[i], y: y - dys[i], 'font-size': 13.5, 'font-weight': 'bold', fill: '#222', 'text-anchor': 'middle', 'data-w': widths[i] }, g, c);
    
    
  });
  const line = mk('polyline', { points: adsCategories.map((c, i) => X(i) + ',' + YR(adsFriction[i])).join(' '), fill: 'none', stroke: '#e8605a', 'stroke-width': 1.6 }, g);
  
  
  adsCategories.forEach((c, i) => {
    const e = mk('path', { d: errBoth(X(i), YR(adsFriction[i] - adsFrictionErr[i]), YR(adsFriction[i] + adsFrictionErr[i]), 3.5), stroke: '#e8605a', 'stroke-width': 1.4, fill: 'none' }, g);
    
    
  });
  adsTicks.forEach((v, i) => {
    const t = mk('text', { x: 508, y: YL(v) + 6, 'font-size': 17, fill: '#333', 'text-anchor': 'end' }, g, adsTickLabels[i]);
    
    
    const k = mk('line', { x1: 515.5, x2: 520, y1: YL(v), y2: YL(v), stroke: '#333' }, g);
    
    
  });
  adsFricTicks.forEach((v, i) => {
    const t = mk('text', { x: 1022, y: YR(v) + 6, 'font-size': 17, fill: '#ee7a72' }, g, adsFricTickLabels[i]);
    
    
    const l = mk('line', { x1: 1009, x2: 1015, y1: YR(v), y2: YR(v), stroke: '#ee7a72' }, g);
    
    
  });
  const a1 = mk('line', { x1: 515.5, x2: 1009, y1: 1082.7, y2: 1082.7, stroke: '#666', 'stroke-width': 1.6 }, g);
  
  
  const a2 = mk('line', { x1: 515.5, x2: 1009, y1: 1424, y2: 1424, stroke: '#333', 'stroke-width': 1.6 }, g);
  
  
  const a3 = mk('line', { x1: 515.5, x2: 515.5, y1: 1082.7, y2: 1424, stroke: '#333', 'stroke-width': 1.3 }, g);
  
  
  const a4 = mk('line', { x1: 1009, x2: 1009, y1: 1082.7, y2: 1424, stroke: '#ee7a72', 'stroke-width': 1.3 }, g);
  
  
})();

/* ---------- chart 3 ---------- */
(function () {
  const g = document.getElementById('chart3');
  const X = i => 91.2 + 42.5 * i;
  const Y = v => 1857.7 - v * 3.427;
  const YR = v => 1857.7 - (v + 6) / 15 * 342.7;
  const W = 11, OFF = 11.9;
  [112, 240, 410].forEach(x => {
    const d = mk('line', { x1: x, x2: x, y1: 1515, y2: 1857.7, stroke: '#777', 'stroke-width': 1.4, 'stroke-dasharray': '6 4' }, g);
    
    
  });
  surfCategories.forEach((c, i) => {
    [[gammaP, gammaPErr, 'url(#hatchP)', -OFF, 'gamma-p-bar'], [gammaD, gammaDErr, 'url(#hatchD)', 0, 'gamma-d-bar'], [gammaT, gammaTErr, '#e8476a', OFF, 'gamma-total-bar']].forEach(s => {
      const v = s[0][i], y = Y(v), cx = X(i) + s[3];
      const b = mk('rect', { x: cx - W / 2, y: y, width: W, height: 1857.7 - y, fill: s[2], stroke: '#555', 'stroke-width': .8 }, g);
      
      
      const e = mk('path', { d: errBoth(cx, Y(v - s[1][i]), Y(v + s[1][i]), 3.5), stroke: '#222', 'stroke-width': 1, fill: 'none' }, g);
      
      
    });
    const ex = 100 + 42.7 * i;
    const t = mk('text', { x: ex, y: 1876, 'font-size': 19, fill: '#333', 'text-anchor': 'end', transform: 'rotate(-30 ' + ex + ' 1876)' }, g, c);
    
    
  });
  const lineX = i => X(i + 1);
  const l = mk('polyline', { points: surfWear.map((v, i) => lineX(i) + ',' + YR(v)).join(' '), fill: 'none', stroke: '#ee5a5c', 'stroke-width': 1.5 }, g);
  
  
  surfWear.forEach((v, i) => {
    const e = mk('path', { d: errBoth(lineX(i), YR(v - surfWearErr[i]), YR(v + surfWearErr[i]), 3.5), stroke: '#ee5a5c', 'stroke-width': 1.2, fill: 'none' }, g);
    
    
  });
  surfTicks.forEach(v => {
    const t = mk('text', { x: 62, y: Y(v) + 5.5, 'font-size': 16, fill: '#333', 'text-anchor': 'end' }, g, String(v));
    
    
    const k = mk('line', { x1: 69, x2: 65, y1: Y(v), y2: Y(v), stroke: '#333' }, g);
    
    
  });
  surfRightTicks.forEach((v, i) => {
    const t = mk('text', { x: 503, y: YR(v) + 5.5, 'font-size': 15, fill: '#ee7a72' }, g, surfRightLabels[i]);
    
    
    const k = mk('line', { x1: 491, x2: 498, y1: YR(v), y2: YR(v), stroke: '#ee7a72' }, g);
    
    
  });
  const box = mk('path', { d: 'M69 1857.7V1515H491M69 1857.7H491', fill: 'none', stroke: '#444', 'stroke-width': 1.2 }, g);
  
  
  const ra = mk('line', { x1: 493, x2: 493, y1: 1515, y2: 1857.7, stroke: '#ee7a72', 'stroke-width': 1.3 }, g);
  
  
  const sw = [[264.5, 'url(#hatchP)', 'legend-swatch-gamma-p'], [345, 'url(#hatchD)', 'legend-swatch-gamma-d'], [425, '#e8476a', 'legend-swatch-gamma']];
  sw.forEach(s => {
    const r = mk('rect', { x: s[0], y: 1523, width: 43, height: 21, fill: s[1], stroke: '#666' }, g);
    
    
  });
  const lg1 = mk('text', { x: 312, y: 1542, 'font-size': 19, fill: '#222' }, g, 'γ');
  
  
  mk('tspan', { dy: -7, 'font-size': 12 }, lg1, 'p');
  const lg2 = mk('text', { x: 393, y: 1542, 'font-size': 19, fill: '#222' }, g, 'γ');
  
  
  mk('tspan', { dy: -7, 'font-size': 12 }, lg2, 'd');
  const lg3 = mk('text', { x: 473, y: 1542, 'font-size': 19, fill: '#222' }, g, 'γ');
  
  
})();

/* ---------- chart 4 ---------- */
(function () {
  const g = document.getElementById('chart4');
  const X = i => 609.1 + 47.0 * i;
  const YL = v => 1855.7 - (v - 30) / 70 * 340.7;
  const YR = v => 1855.7 - v / 2 * 340.7;
  const W = 12.8, OFF = 9.3;
  [726, 915].forEach(x => {
    const d = mk('line', { x1: x, x2: x, y1: 1515, y2: 1855.7, stroke: '#777', 'stroke-width': 1.2, 'stroke-dasharray': '6 4' }, g);
    
    
  });
  corrCategories.forEach((c, i) => {
    const y = YL(corrSurface[i]);
    const b = mk('rect', { x: X(i) - OFF - W / 2, y: y, width: W, height: 1855.7 - y, fill: '#3d3d3d' }, g);
    
    
    const e = mk('path', { d: errBoth(X(i) - OFF, YL(corrSurface[i] - corrSurfaceErr[i]), YL(corrSurface[i] + corrSurfaceErr[i]), 4), stroke: '#222', 'stroke-width': 1.2, fill: 'none' }, g);
    
    
    const y2 = YR(corrAds[i]);
    const b2 = mk('rect', { x: X(i) + OFF - W / 2, y: y2, width: W, height: 1855.7 - y2, fill: '#e83c3c' }, g);
    
    
    const ex = 626 + 47.3 * i;
    const t = mk('text', { x: ex, y: 1873, 'font-size': 20, fill: '#333', 'text-anchor': 'end', transform: 'rotate(-28 ' + ex + ' 1873)' }, g, c);
    
    
  });
  corrTicks.forEach(v => {
    const t = mk('text', { x: 578, y: YL(v) + 6.5, 'font-size': 18, fill: '#333', 'text-anchor': 'end' }, g, String(v));
    
    
    const k = mk('line', { x1: 585.5, x2: 581, y1: YL(v), y2: YL(v), stroke: '#333' }, g);
    
    
  });
  corrRightTicks.forEach((v, i) => {
    const t = mk('text', { x: 1016, y: YR(v) + 6, 'font-size': 17, fill: '#ee5e58' }, g, corrRightLabels[i]);
    
    
    const k = mk('line', { x1: 1003, x2: 1009, y1: YR(v), y2: YR(v), stroke: '#ee5e58' }, g);
    
    
  });
  const box = mk('path', { d: 'M585.5 1515V1855.7H1002M585.5 1515H1002', fill: 'none', stroke: '#333', 'stroke-width': 1.3 }, g);
  
  
  const ra = mk('line', { x1: 1003, x2: 1003, y1: 1515, y2: 1855.7, stroke: '#ee5e58', 'stroke-width': 1.3 }, g);
  
  
})();

/* ---------- skeletal molecules ---------- */
(function () {
  const g = document.getElementById('molecules');
  const mx = x => x / 1.452, my = y => 380 + y / 2.53;
  const zig = (x0, low, high, n) => { const p = []; for (let i = 0; i < n; i++) p.push([x0 + 40 * i, i % 2 ? high : low]); return p; };
  const paths = [
    ['n-nonane', [zig(168, 150, 108, 9)]],
    ['1-nonene', [zig(597, 148, 106, 8).concat([[877, 106], [915, 150]]), [[872, 120], [910, 157]]]],
    ['2-nonanone', [zig(1023, 146, 106, 8).concat([[1303, 106], [1342, 146]]), [[1299, 106], [1299, 38]], [[1306, 106], [1306, 38]]]],
    ['nonanal', [zig(165, 387, 347, 9), [[485, 383], [513, 355]], [[482, 376], [510, 348]]]],
    ['1-nonanethiol', [zig(597, 385, 345, 9).concat([[950, 352]])]],
    ['1-nonylamine', [zig(1023, 382, 342, 9).concat([[1375, 348]])]],
    ['1-nonanol', [zig(170, 636, 595, 9).concat([[520, 605]])]],
    ['nonanoic-acid', [zig(598, 635, 593, 8).concat([[915, 635], [950, 603]]), [[911, 635], [911, 705]], [[918, 635], [918, 705]]]],
    ['4-n-propylphenol', [[[1212,600],[1252,560],[1292,600],[1292,680],[1252,720],[1212,680],[1212,600]], [[1212,680],[1173,720],[1133,680],[1093,720]], [[1292,600],[1325,570]], [[1222,605],[1252,575]], [[1282,610],[1282,670]], [[1252,705],[1222,672]]]]
  ];
  paths.forEach(m => {
    m[1].forEach(seg => {
      const l = mk('polyline', { points: seg.map(p => mx(p[0]) + ',' + my(p[1])).join(' '), fill: 'none', stroke: '#333', 'stroke-width': 1.1 }, g);
      
      
    });
  });
})();

/* ---------- Fe(100) adsorption models ---------- */
(function () {
  const g = document.getElementById('fePanels');
  const panels = [
    [30,120,[1105,1125,1145,1165],0,[]],[172,119,[1105,1125,1145,1165],0,[]],[310,119,[1105,1125,1145,1165],0,[[342,1085.7,'#e01f25']]],
    [30,110,[1252,1272,1292,1308],7,[[49,1234,'#e01f25']]],[172,109,[1252,1272,1292,1308],7,[[191,1230,'#e01f25']]],[310,112,[1252,1272,1292,1308],7,[[331,1222,'#e01f25'],[352,1234,'#e01f25']]],
    [30,110,[1393,1415,1433,1452],7,[[48,1362,'#e01f25']]],[172,105,[1393,1415,1433,1452],7,[[189,1370,'#ecd21c']]],[312,107,[1393,1415,1433,1452],7,[[331,1362,'#1d4ea0']]]
  ];
  const chain = [[23,-35],[37,-43],[50,-41],[62,-50],[76,-47],[82,-32],[94,-37],[95,-29],[85,-35]];
  const hOff = [[-4,-9],[4,9]];
  panels.forEach(p => {
    const x0 = p[0], w = p[1], rows = p[2], off = p[3];
    const pts = chain.map(c => (x0 + c[0]) + ',' + (rows[0] + c[1] + off)).join(' ');
    chain.forEach(c => {
      hOff.forEach(h => {
        const b = mk('line', { x1: x0 + c[0], y1: rows[0] + c[1] + off, x2: x0 + c[0] + h[0], y2: rows[0] + c[1] + off + h[1], stroke: '#bbb', 'stroke-width': 1.2 }, g);
        
        
        const a = mk('circle', { cx: x0 + c[0] + h[0], cy: rows[0] + c[1] + off + h[1], r: 2.7, fill: '#e8e8e8', stroke: '#aaa', 'stroke-width': .5 }, g);
        
        
      });
    });
    const bond = mk('polyline', { points: pts, fill: 'none', stroke: '#777', 'stroke-width': 2.4 }, g);
    
    
    chain.forEach(c => {
      const a = mk('circle', { cx: x0 + c[0], cy: rows[0] + c[1] + off, r: 4.2, fill: '#777' }, g);
      
      
    });
    p[4].forEach(h => {
      const a = mk('circle', { cx: h[0], cy: h[1], r: 3.8, fill: h[2] }, g);
      
      
    });
    rows.forEach((y, r) => {
      const tilted = off > 0 && r === 0;
      for (let k = 0; k < 6; k++) {
        const cx = x0 + (k + .5) * w / 6 + (r % 2 ? 3 : 0);
        for (let a = -1; a <= 1; a++) {
          const c = mk('circle', { cx: cx + a * (tilted ? 3 : 5.4), cy: y + (k % 2 ? 1.6 : -1.6) - a * (tilted ? 4 : 1.7) + (a === 0 ? 1 : 0), r: 5.5, fill: '#5b3a9b' }, g);
          
          
        }
      }
    });
  });
})();

/* ---------- small characterisation plots ---------- */
(function () {
  const g = document.getElementById('microCharts');
  const line = (xs, ys, sx, sy, stroke, sw, name) => {
    const l = mk('polyline', { points: xs.map((v, i) => sx(v) + ',' + sy(ys[i])).join(' '), fill: 'none', stroke: stroke, 'stroke-width': sw }, g);
    
    
    return l;
  };
  const rx = v => 22 + v / 4000 * 115, ry = v => 2328 - v * .93;
  line(ramanShift, ramanRed, rx, ry, '#e85a70', 1.9, 'raman-series-wear-red');
  line(ramanBlueShift, ramanBlue, rx, ry, '#2c96d6', 1.6, 'raman-series-wear-blue');
  ['0','1000','2000','3000','4000'].forEach((s, i) => {
    const t = mk('text', { class: 'tiny', x: rx(i * 1000), y: 2336, style: 'font-size:7px' }, g, s);
    
    
  });
  const fx = v => 163 + v / 60 * 117, fy = v => 2328 - v / 1000 * 83;
  line(loadX, loadBlue, fx, fy, '#3a9ad6', 1.1, 'force-blank-loading');
  line(unloadBlueX, unloadBlue, fx, fy, '#3a9ad6', 1.1, 'force-blank-unloading');
  line(loadRedX, loadRed, fx, fy, '#f07a80', 1.1, 'force-wear-loading');
  line(unloadRedX, unloadRed, fx, fy, '#f07a80', 1.1, 'force-wear-unloading');
  [0,10,20,30,40,50,60].forEach(v => {
    const t = mk('text', { class: 'tiny', x: fx(v), y: 2336, style: 'font-size:7px' }, g, String(v));
    
    
  });
  [0,200,400,600,800,1000].forEach(v => {
    const t = mk('text', { class: 'tiny', x: 156, y: fy(v) + 2, style: 'font-size:7px' }, g, String(v));
    
    
  });
  const by = v => 2329 - v / 350 * 94, bh = v => 2329 - v / 28 * 94;
  const axes = mk('path', { d: 'M308 2329V2235H424V2329M308 2329H424', fill: 'none', stroke: '#888' }, g);
  
  
  modulusValues.forEach((v, i) => {
    const b = mk('rect', { x: 321 + 19.6 * i, y: by(v), width: 10.5, height: 2329 - by(v), fill: '#e8476a' }, g);
    
    
    const ex = 330 + 20 * i;
    const l = mk('text', { class: 'tiny', x: ex, y: 2340, transform: 'rotate(-30 ' + ex + ' 2340)', style: 'text-anchor:end' }, g, mechCategories[i]);
    
    
  });
  hardnessValues.forEach((v, i) => {
    const b = mk('rect', { x: 380 + 19.3 * i, y: bh(v), width: 10.5, height: 2329 - bh(v), fill: '#2c96d6' }, g);
    
    
    const ex = 388 + 20 * i;
    const l = mk('text', { class: 'tiny', x: ex, y: 2340, transform: 'rotate(-30 ' + ex + ' 2340)', style: 'text-anchor:end' }, g, mechCategories[i]);
    
    
  });
  [0,50,100,150,200,250,300,350].forEach(v => {
    const t = mk('text', { class: 'tiny', x: 301, y: by(v) + 2, style: 'font-size:6.5px;fill:#e8566f' }, g, String(v));
    
    
  });
  [0,4,8,12,16,20,24,28].forEach(v => {
    const t = mk('text', { class: 'tiny', x: 430, y: bh(v) + 2, style: 'font-size:6.5px;fill:#3a9ad6' }, g, String(v));
    
    
  });
  const xps = (x0, w, beL, beR, be, I, col, fills, name, ticks) => {
    const sx = v => x0 + (beL - v) / (beL - beR) * w, sy = v => 2452 - v * .95;
    fills.forEach(f => {
      const p = mk('polygon', { points: f[0].map(q => sx(q[0]) + ',' + sy(q[1])).join(' '), fill: f[1], opacity: .85 }, g);
      
      
    });
    const s = line(be, I, sx, sy, col, 2.4, name + '-spectrum');
    s.setAttribute('stroke-dasharray', '3 1');
    ticks.forEach(v => {
      const t = mk('text', { class: 'tiny', x: sx(v), y: 2459, style: 'font-size:7px' }, g, String(v));
      
      
    });
  };
  xps(22, 115, 745, 695, fe2pBE, fe2pI, '#5a48a8', [
    [[[725,48],[723,76],[719,55],[714,40]], '#a8d060'],
    [[[716,35],[713,52],[710,28]], '#c8a0d0'],
    [[[710,28],[710,88],[707,62],[704,12]], '#4ab0e0']
  ], 'fe2p', fe2pTicks);
  xps(163, 117, 544, 521.5, o1sBE, o1sI, '#2f9a4a', [
    [[[536,11],[532.8,20],[530.5,11]], '#d8a8d8'],
    [[[532,13],[531,42],[529.8,12]], '#a8d060'],
    [[[530.5,12],[530,64],[528.5,12]], '#4ab0e0']
  ], 'o1s', o1sTicks);
  xps(307, 117, 300, 275, c1sBE, c1sI, '#e05a6a', [
    [[[291,11],[288.5,20],[286,11]], '#d8a8d8'],
    [[[287,13],[285.7,50],[284.4,13]], '#a8d060'],
    [[[286,11],[284.6,60],[283,11]], '#4ab0e0']
  ], 'c1s', c1sTicks);
})();

/* ---------- friction interface panels ---------- */
(function () {
  const g = document.getElementById('plates');
  const px = x => 430 + x / 2.405, py = y => 1950 + y / 2.86;
  const rect = (x1, y1, x2, y2, fill, name) => {
    const r = mk('rect', { x: px(x1), y: py(y1), width: px(x2) - px(x1), height: py(y2) - py(y1), fill: fill }, g);
    
    
  };
  const squig = (x1, y1, x2, y2, amp) => {
    const dx = x2 - x1, dy = y2 - y1, L = Math.hypot(dx, dy) || 1, nx = -dy / L, ny = dx / L;
    let d = 'M' + x1 + ' ' + y1;
    for (let k = 0; k < 4; k++) {
      const m = (k + .5) / 4, e = (k + 1) / 4, s = (k % 2 ? -1 : 1) * amp * 2;
      d += 'Q' + (x1 + dx * m + nx * s) + ' ' + (y1 + dy * m + ny * s) + ' ' + (x1 + dx * e) + ' ' + (y1 + dy * e);
    }
    return d;
  };
  const mol = (bx, by, ex, ey) => {
    const x1 = px(bx), y1 = py(by), x2 = px(ex), y2 = py(ey);
    const s = mk('path', { d: squig(x1, y1, x2, y2, 1.8), fill: 'none', stroke: '#55b06a', 'stroke-width': 1.5 }, g);
    
    
    const b = mk('circle', { cx: x1, cy: y1, r: 3.8, fill: 'url(#ball)' }, g);
    
    
  };
  rect(53, 975, 468, 1252, '#f5faff', 'interface-fluid-initial');
  rect(53, 905, 468, 975, '#c4c4c4', 'upper-plate-initial');
  rect(53, 1252, 468, 1322, '#c4c4c4', 'lower-plate-initial');
  rect(580, 306, 996, 585, '#f5faff', 'interface-fluid-adsorbed');
  rect(580, 238, 996, 306, '#c4c4c4', 'upper-plate-adsorbed');
  rect(580, 585, 996, 655, '#c4c4c4', 'lower-plate-adsorbed');
  rect(1105, 323, 1522, 570, '#f5faff', 'interface-fluid-tribofilm');
  rect(1105, 235, 1522, 305, '#c4c4c4', 'upper-plate-tribofilm');
  rect(1105, 305, 1522, 323, '#eda83c', 'upper-tribofilm');
  rect(1105, 570, 1522, 590, '#eda83c', 'lower-tribofilm');
  rect(1105, 590, 1522, 652, '#c4c4c4', 'lower-plate-tribofilm');
  rect(581, 973, 998, 1250, '#f5faff', 'interface-fluid-weak');
  rect(581, 903, 998, 973, '#c4c4c4', 'upper-plate-weak');
  rect(581, 1250, 998, 1320, '#c4c4c4', 'lower-plate-weak');
  rect(1105, 974, 1520, 1245, '#f5faff', 'interface-fluid-partial');
  rect(1105, 900, 1520, 968, '#c4c4c4', 'upper-plate-partial');
  rect(1105, 1252, 1520, 1318, '#c4c4c4', 'lower-plate-partial');
  [[1105,1303],[1330,1385],[1410,1520]].forEach(s => rect(s[0], 968, s[1], 974, '#eda83c', 'partial-tribofilm-top'));
  [[1105,1170],[1187,1275],[1315,1365],[1432,1520]].forEach(s => rect(s[0], 1245, s[1], 1252, '#eda83c', 'partial-tribofilm-bottom'));
  [[627],[682],[737],[790],[843],[898],[950]].forEach(a => mol(a[0], 320, a[0], 438));
  [[625],[677],[732],[785],[838],[893],[948]].forEach(a => mol(a[0], 572, a[0], 455));
  [1175,1230,1285,1337,1390,1445,1497].forEach(x => mol(x, 343, x - 55, 440));
  [1120,1173,1228,1281,1333,1388,1443].forEach(x => mol(x, 550, x + 55, 455));
  [[168,983,170,1100],[245,988,195,1085],[267,995,325,1090],[378,988,335,1090],[447,1013,365,1075],[65,1050,117,1150],[105,1043,155,1145],[207,1113,305,1105],[72,1183,155,1240],[212,1195,118,1165],[232,1238,235,1120],[290,1236,265,1120],[313,1228,375,1135],[440,1228,392,1125],
   [603,995,660,1095],[718,997,668,1095],[742,992,765,1105],[793,985,795,1100],[846,985,850,1100],[924,993,868,1085],[962,1008,993,1118],[620,1240,625,1125],[695,1235,652,1130],[708,1120,748,1225],[800,1225,760,1120],[851,1238,857,1120],[910,1217,905,1100],[950,1195,955,1080],
   [1145,985,1163,1100],[1232,992,1205,1100],[1258,995,1292,1105],[1325,985,1320,1090],[1375,985,1370,1095],[1435,985,1408,1095],[1485,1008,1515,1118],[1132,1230,1163,1120],[1217,1235,1173,1130],[1232,1120,1270,1225],[1285,1228,1328,1122],[1358,1235,1398,1130],[1418,1213,1455,1105],[1473,1195,1475,1080]
  ].forEach(m => mol(m[0], m[1], m[2], m[3]));
  mol(65, 1362, 167, 1362);
})();

/* ---------- fit labels to their measured widths ---------- */
document.querySelectorAll('text[data-w]').forEach(t => {
  const w = parseFloat(t.getAttribute('data-w'));
  const len = t.getComputedTextLength();
  if (!len) return;
  const k = w / len, x = parseFloat(t.getAttribute('x'));
  const prev = t.getAttribute('transform') || '';
  t.setAttribute('transform', prev + ' translate(' + (x * (1 - k)) + ',0) scale(' + k + ',1)');
});
</script>
</body>
</html>
